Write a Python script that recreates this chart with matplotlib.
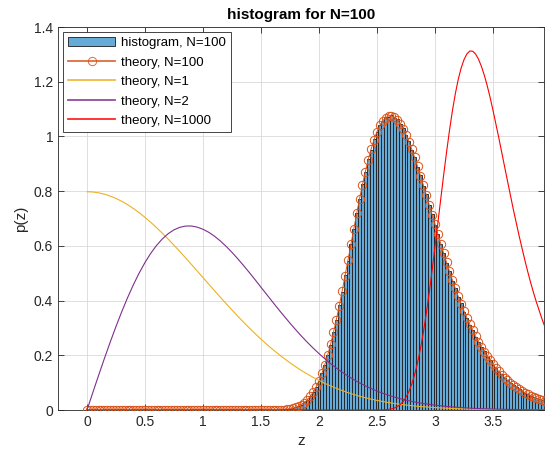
import numpy as np
import matplotlib
matplotlib.use("Agg")
import matplotlib.pyplot as plt
from matplotlib.ticker import FuncFormatter

plt.rcParams['font.family'] = ['Liberation Sans', 'DejaVu Sans']

# ---------------- data ----------------
title = "histogram for N=100"
xlabel = "z"
ylabel = "p(z)"
legend_labels = ["histogram, N=100", "theory, N=100", "theory, N=1",
                 "theory, N=2", "theory, N=1000"]

# coarse grid (step 0.05) for N=1 and N=2 curves
z_coarse = np.round(np.arange(0, 3.951, 0.05), 3)
p_n1 = [0.7979, 0.7969, 0.7939, 0.7890, 0.7821, 0.7733, 0.7628, 0.7505, 0.7365, 0.7211,
        0.7041, 0.6859, 0.6665, 0.6459, 0.6245, 0.6023, 0.5794, 0.5560, 0.5322, 0.5081,
        0.4839, 0.4598, 0.4357, 0.4119, 0.3884, 0.3653, 0.3427, 0.3208, 0.2995, 0.2789,
        0.2590, 0.2400, 0.2218, 0.2045, 0.1881, 0.1726, 0.1579, 0.1441, 0.1312, 0.1192,
        0.1080, 0.0976, 0.0880, 0.0791, 0.0710, 0.0635, 0.0567, 0.0504, 0.0448, 0.0397,
        0.0351, 0.0309, 0.0272, 0.0238, 0.0208, 0.0182, 0.0158, 0.0137, 0.0119, 0.0103,
        0.0089, 0.0076, 0.0065, 0.0056, 0.0048, 0.0041, 0.0034, 0.0029, 0.0025, 0.0021,
        0.0017, 0.0015, 0.0012, 0.0010, 0.0009, 0.0007, 0.0006, 0.0005, 0.0004, 0.0003]
p_n2 = [0.0, 0.0636, 0.1265, 0.1882, 0.2480, 0.3053, 0.3598, 0.4108, 0.4579, 0.5009,
        0.5392, 0.5730, 0.6018, 0.6256, 0.6446, 0.6586, 0.6678, 0.6724, 0.6726, 0.6685,
        0.6607, 0.6495, 0.6350, 0.6177, 0.5980, 0.5762, 0.5527, 0.5280, 0.5022, 0.4758,
        0.4488, 0.4219, 0.3950, 0.3685, 0.3427, 0.3175, 0.2931, 0.2697, 0.2473, 0.2262,
        0.2062, 0.1873, 0.1697, 0.1532, 0.1381, 0.1239, 0.1110, 0.0989, 0.0881, 0.0783,
        0.0693, 0.0611, 0.0539, 0.0472, 0.0413, 0.0362, 0.0314, 0.0273, 0.0237, 0.0205,
        0.0178, 0.0152, 0.0130, 0.0112, 0.0096, 0.0082, 0.0068, 0.0058, 0.0050, 0.0042,
        0.0034, 0.0030, 0.0024, 0.0020, 0.0018, 0.0014, 0.0012, 0.0010, 0.0008, 0.0006]

# fine grid (step 0.025) for N=100 and N=1000 curves
z_fine = np.round(np.arange(0, 3.951, 0.025), 4)
p_n100 = [
    0, 0, 0, 0, 0, 0, 0, 0, 0, 0, 0, 0, 0, 0, 0, 0,
    0, 0, 0, 0, 0, 0, 0, 0, 0, 0, 0, 0, 0, 0, 0, 0,
    0, 0, 0, 0, 0, 0, 0, 0, 0, 0, 0, 0, 0, 0, 0, 0,
    0, 0, 0, 0, 0, 0, 0, 0, 0, 0, 0, 0, 0, 0, 0, 0,
    0.0002, 0.0004, 0.0007, 0.0011, 0.0018, 0.0028, 0.0044, 0.0066, 0.0098, 0.0140,
    0.0200, 0.0274, 0.0376, 0.0497, 0.0657, 0.0840, 0.1074, 0.1340, 0.1652, 0.2005,
    0.2399, 0.2835, 0.3308, 0.3815, 0.4350, 0.4906, 0.5476, 0.6052, 0.6624, 0.7185,
    0.7726, 0.8239, 0.8717, 0.9155, 0.9547, 0.9886, 1.0172, 1.0402, 1.0575, 1.0690,
    1.0748, 1.0751, 1.0703, 1.0607, 1.0466, 1.0283, 1.0064, 0.9812, 0.9533, 0.9230,
    0.8908, 0.8571, 0.8223, 0.7867, 0.7506, 0.7144, 0.6783, 0.6426, 0.6074, 0.5729,
    0.5393, 0.5068, 0.4754, 0.4451, 0.4161, 0.3884, 0.3620, 0.3370, 0.3132, 0.2907,
    0.2694, 0.2493, 0.2305, 0.2129, 0.1964, 0.1810, 0.1667, 0.1533, 0.1409, 0.1293,
    0.1186, 0.1086, 0.0994, 0.0910, 0.0832, 0.0760, 0.0694, 0.0633, 0.0576, 0.0524,
    0.0476, 0.0433, 0.0394, 0.0357, 0.0323]

p_n1000 = [
    0, 0, 0, 0, 0, 0, 0, 0, 0, 0, 0, 0, 0, 0, 0, 0, 0, 0, 0, 0,
    0, 0, 0, 0, 0, 0, 0, 0, 0, 0, 0, 0, 0, 0, 0, 0, 0, 0, 0, 0,
    0, 0, 0, 0, 0, 0, 0, 0, 0, 0, 0, 0, 0, 0, 0, 0, 0, 0, 0, 0,
    0, 0, 0, 0, 0, 0, 0, 0, 0, 0, 0, 0, 0, 0, 0, 0, 0, 0, 0, 0,
    0, 0, 0, 0, 0, 0, 0, 0, 0, 0, 0, 0, 0, 0, 0, 0, 0, 0, 0, 0,
    0.0001, 0.0003, 0.0006, 0.0012, 0.0023, 0.0042, 0.0074, 0.0124, 0.0199, 0.0306,
    0.0464, 0.0674, 0.0948, 0.1298, 0.1727, 0.2243, 0.2841, 0.3525, 0.4278, 0.5093,
    0.5950, 0.6838, 0.7730, 0.8596, 0.9427, 1.0214, 1.0931, 1.1550, 1.2073, 1.2490,
    1.2804, 1.3016, 1.3122, 1.3115, 1.3013, 1.2826, 1.2565, 1.2242, 1.1863, 1.1430,
    1.0960, 1.0466, 0.9955, 0.9435, 0.8909, 0.8377, 0.7851, 0.7343, 0.6850, 0.6375,
    0.5917, 0.5475, 0.5054, 0.4656, 0.4283, 0.3938, 0.3615, 0.3300, 0.3015]

# histogram bins (width 0.025) and pdf-normalised heights
bin_width = 0.025
hist_centers = np.round(np.arange(1.7, 3.926, 0.025), 4)
hist_heights = [
    0.002, 0.003, 0.004, 0.007, 0.010, 0.015, 0.020, 0.028, 0.037, 0.051,
    0.065, 0.085, 0.106, 0.135, 0.164, 0.202, 0.238, 0.285, 0.329, 0.383,
    0.433, 0.492, 0.545, 0.607, 0.660, 0.720, 0.770, 0.826, 0.869, 0.917,
    0.952, 0.991, 1.015, 1.042, 1.055, 1.071, 1.072, 1.077, 1.068, 1.062,
    1.044, 1.030, 1.004, 0.983, 0.951, 0.925, 0.888, 0.859, 0.820, 0.789,
    0.748, 0.716, 0.676, 0.644, 0.605, 0.575, 0.537, 0.508, 0.473, 0.446,
    0.414, 0.390, 0.360, 0.338, 0.311, 0.292, 0.268, 0.250, 0.229, 0.214,
    0.195, 0.182, 0.166, 0.154, 0.140, 0.130, 0.118, 0.109, 0.099, 0.091,
    0.083, 0.076, 0.069, 0.063, 0.057, 0.053, 0.047, 0.044, 0.039, 0.036]

xticks = [0, 0.5, 1, 1.5, 2, 2.5, 3, 3.5]
yticks = [0, 0.2, 0.4, 0.6, 0.8, 1.0, 1.2, 1.4]

# ---------------- figure ----------------
W, H = 545, 459
fig = plt.figure(figsize=(W / 100, H / 100), dpi=100, facecolor='white')
ax = fig.add_axes([58 / W, 1 - 410 / H, (544 - 58) / W, (410 - 27) / H])

c_hist = (0.4, 0.668, 0.845)
c100 = '#D95319'
c1 = '#EDB120'
c2 = '#7E2F8E'
c1000 = '#FF0000'

h0 = ax.bar(hist_centers, hist_heights, width=bin_width, color=c_hist,
            edgecolor='#1a1a1a', linewidth=0.6, label=legend_labels[0], zorder=2)
h1, = ax.plot(z_fine, p_n100, '-o', color=c100, lw=0.7, ms=6, mfc='none', mew=0.7,
              label=legend_labels[1], zorder=3)
h2, = ax.plot(z_coarse, p_n1, '-', color=c1, lw=0.8, label=legend_labels[2], zorder=3)
h3, = ax.plot(z_coarse, p_n2, '-', color=c2, lw=0.8, label=legend_labels[3], zorder=3)
h4, = ax.plot(z_fine, p_n1000, '-', color=c1000, lw=0.8, label=legend_labels[4], zorder=3)

ax.set_xlim(-0.25, 3.94)
ax.set_ylim(0, 1.4)
ax.set_xticks(xticks)
ax.set_yticks(yticks)
fmt = FuncFormatter(lambda v, p: '%g' % v)
ax.xaxis.set_major_formatter(fmt)
ax.yaxis.set_major_formatter(fmt)
ax.tick_params(direction='in', top=True, right=True, labelsize=10,
               colors='#262626', length=4, width=0.6)
ax.grid(True, color='#d9d9d9', lw=0.6, zorder=0)
ax.set_axisbelow(True)
for s in ax.spines.values():
    s.set_color('#262626')
    s.set_linewidth(0.6)

ax.set_title(title, fontsize=11, fontweight='bold', pad=6)
ax.set_xlabel(xlabel, fontsize=11, color='#262626')
ax.set_ylabel(ylabel, fontsize=11, color='#262626')

leg = ax.legend([h0, h1, h2, h3, h4], legend_labels, loc='upper left',
                fontsize=9.5, frameon=True, fancybox=False, framealpha=1,
                edgecolor='#262626', handlelength=3.6, borderpad=0.4,
                labelspacing=0.55, handletextpad=0.4, borderaxespad=0.35)
leg.get_frame().set_linewidth(0.6)
for ln, col in zip(leg.get_lines(), [c100, c1, c2, c1000]):
    ln.set_color(col)
    ln.set_linewidth(1.3)
    ln.set_alpha(0.85)

fig.savefig('out.png', dpi=100, facecolor='white')
